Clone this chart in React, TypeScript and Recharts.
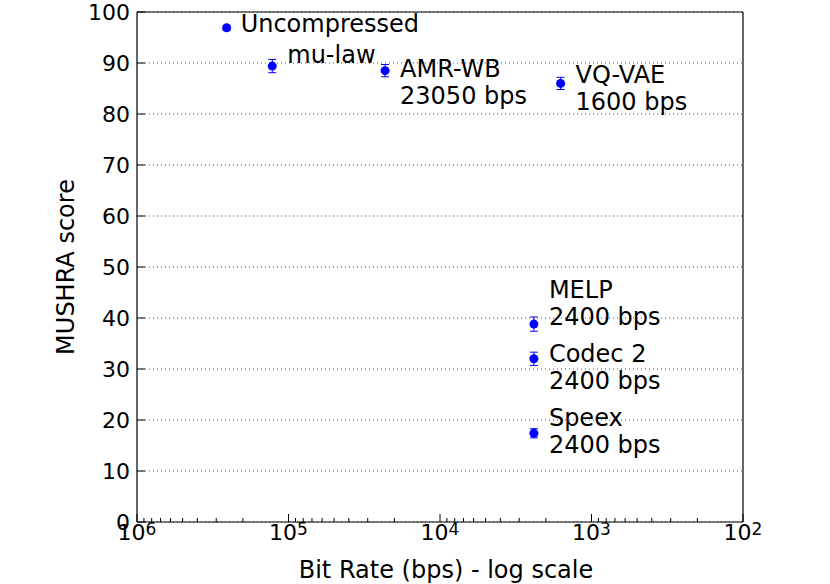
import { ScatterChart, Scatter, XAxis, YAxis, CartesianGrid, ErrorBar } from "recharts";

const codecs = ["Uncompressed", "mu-law", "AMR-WB", "VQ-VAE", "MELP", "Codec 2", "Speex"];
const bitRates = [256000, 128000, 23050, 1600, 2400, 2400, 2400];
const scores = [96.9, 89.4, 88.5, 86.0, 38.8, 32.0, 17.4];
const errors = [0.5, 1.3, 1.2, 1.2, 1.4, 1.3, 0.9];
const labelLines = [
  ["Uncompressed"],
  ["mu-law"],
  ["AMR-WB", "23050 bps"],
  ["VQ-VAE", "1600 bps"],
  ["MELP", "2400 bps"],
  ["Codec 2", "2400 bps"],
  ["Speex", "2400 bps"],
];
// label offset from the marker (px): first baseline relative to cy
const labelDx = [14, 15, 15, 15, 15, 15, 15];
const labelDy = [4, -3, 6, 0, -26, 3, -7];

const majorTicks = [1e2, 1e3, 1e4, 1e5, 1e6];
const yTicks = [0, 10, 20, 30, 40, 50, 60, 70, 80, 90, 100];

const xTicks: number[] = [];
for (const d of [1e2, 1e3, 1e4, 1e5]) {
  for (let m = 1; m < 10; m++) xTicks.push(d * m);
}
xTicks.push(1e6);

const data = codecs.map((name, i) => ({
  name,
  rate: bitRates[i],
  score: scores[i],
  err: errors[i],
  lines: labelLines[i],
  dx: labelDx[i],
  dy: labelDy[i],
}));

const FONT = "'DejaVu Sans', sans-serif";
const BLUE = "#0000ff";

const isMajor = (v: number) => majorTicks.some((m) => Math.abs(m - v) < 1e-6);

const BottomTick = (props: any) => {
  const { x, y, payload } = props;
  const v = payload.value;
  const major = isMajor(v);
  return (
    <g>
      <line x1={x} x2={x} y1={y} y2={y - (major ? 8 : 4)} stroke="#000" />
      {major && (
        <text x={x} y={y + 18} textAnchor="middle" fontFamily={FONT} fontSize={22} fill="#000">
          10
          <tspan dy={-5} fontSize={17}>
            {Math.round(Math.log10(v))}
          </tspan>
        </text>
      )}
    </g>
  );
};

const TopTick = (props: any) => {
  const { x, y, payload } = props;
  const major = isMajor(payload.value);
  return <line x1={x} x2={x} y1={y} y2={y + (major ? 8 : 4)} stroke="#000" />;
};

const LeftTick = (props: any) => {
  const { x, y, payload } = props;
  return (
    <g>
      <line x1={x} x2={x + 8} y1={y} y2={y} stroke="#000" />
      <text x={x - 7} y={y + 8} textAnchor="end" fontFamily={FONT} fontSize={22} fill="#000">
        {payload.value}
      </text>
    </g>
  );
};

const RightTick = (props: any) => {
  const { x, y } = props;
  return <line x1={x} x2={x - 8} y1={y} y2={y} stroke="#000" />;
};

const Point = (props: any) => {
  const { cx, cy, payload } = props;
  return (
    <g>
      <circle cx={cx} cy={cy} r={4.5} fill={BLUE} />
      <text x={cx + payload.dx} y={cy + payload.dy} fontFamily={FONT} fontSize={24} fill="#000">
        {payload.lines.map((l: string, i: number) => (
          <tspan key={i} x={cx + payload.dx} dy={i === 0 ? 0 : 27}>
            {l}
          </tspan>
        ))}
      </text>
    </g>
  );
};

const XTitle = (props: any) => {
  const vb = props.viewBox;
  return (
    <text x={vb.x + vb.width / 2 + 6} y={578} textAnchor="middle" fontFamily={FONT} fontSize={24} fill="#000">
      Bit Rate (bps) - log scale
    </text>
  );
};

const YTitle = (props: any) => {
  const vb = props.viewBox;
  const cy = vb.y + vb.height / 2;
  return (
    <text
      x={66}
      y={cy}
      transform={`rotate(-90, 66, ${cy})`}
      textAnchor="middle"
      dominantBaseline="central"
      fontFamily={FONT}
      fontSize={24}
      fill="#000"
    >
      MUSHRA score
    </text>
  );
};

export default function App() {
  return (
    <div style={{ position: "absolute", left: 0, top: 0, background: "#fff" }}>
      <ScatterChart width={830} height={584} margin={{ top: 0, right: 0, bottom: 0, left: 0 }}>
        <CartesianGrid
          xAxisId="b"
          yAxisId="l"
          vertical={false}
          stroke="#555"
          strokeDasharray="1 3"
        />
        <XAxis
          xAxisId="b"
          dataKey="rate"
          type="number"
          scale="log"
          domain={[100, 1e6]}
          allowDataOverflow
          reversed
          ticks={xTicks}
          interval={0}
          tick={<BottomTick />}
          tickLine={false}
          tickSize={0}
          tickMargin={0}
          height={62}
          axisLine={{ stroke: "#000", strokeWidth: 1.2 }}
          label={{ content: <XTitle /> }}
        />
        <XAxis
          xAxisId="t"
          orientation="top"
          type="number"
          scale="log"
          domain={[100, 1e6]}
          allowDataOverflow
          reversed
          ticks={xTicks}
          interval={0}
          tick={<TopTick />}
          tickLine={false}
          tickSize={0}
          tickMargin={0}
          height={12}
          axisLine={{ stroke: "#000", strokeWidth: 1.2 }}
        />
        <YAxis
          yAxisId="l"
          dataKey="score"
          type="number"
          domain={[0, 100]}
          ticks={yTicks}
          interval={0}
          tick={<LeftTick />}
          tickLine={false}
          tickSize={0}
          tickMargin={0}
          width={137}
          axisLine={{ stroke: "#000", strokeWidth: 1.2 }}
          label={{ content: <YTitle /> }}
        />
        <YAxis
          yAxisId="r"
          orientation="right"
          type="number"
          domain={[0, 100]}
          ticks={yTicks}
          interval={0}
          tick={<RightTick />}
          tickLine={false}
          tickSize={0}
          tickMargin={0}
          width={87}
          axisLine={{ stroke: "#000", strokeWidth: 1.2 }}
        />
        <Scatter
          xAxisId="b"
          yAxisId="l"
          data={data}
          fill={BLUE}
          shape={<Point />}
          isAnimationActive={false}
        >
          <ErrorBar dataKey="err" direction="y" width={4} stroke={BLUE} strokeWidth={1} />
        </Scatter>
      </ScatterChart>
    </div>
  );
}
